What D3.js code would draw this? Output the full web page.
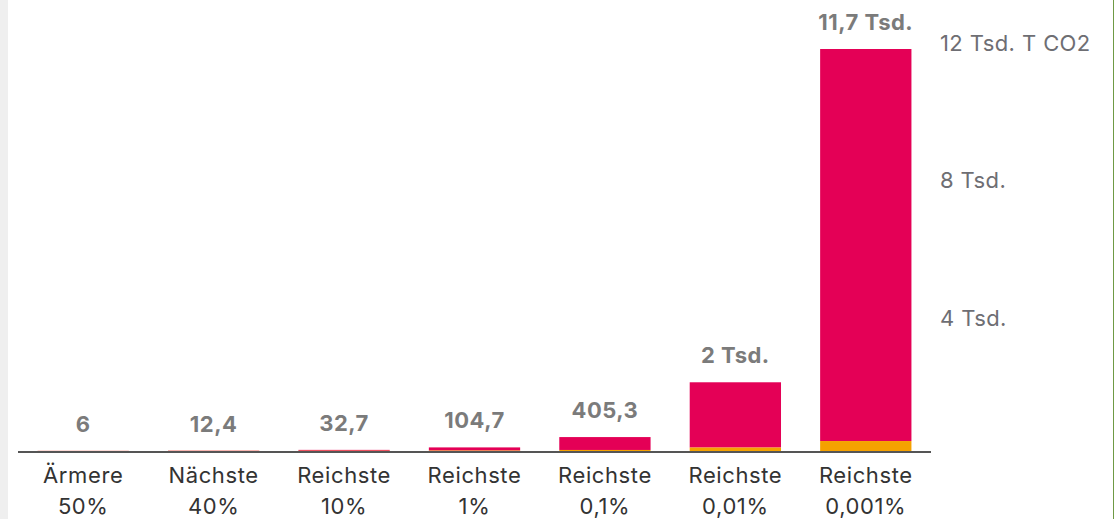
<!DOCTYPE html>
<html>
<head>
<meta charset="utf-8">
<script src="https://cdn.jsdelivr.net/npm/d3@7"></script>
<style>
  body { margin: 0; background: #fff; }
  svg { display: block; }
</style>
</head>
<body>
<div id="chart"></div>
<script>
// data
var groups = ["Ärmere 50%", "Nächste 40%", "Reichste 10%", "Reichste 1%", "Reichste 0,1%", "Reichste 0,01%", "Reichste 0,001%"];
var totals = [6, 12.4, 32.7, 104.7, 405.3, 2000, 11700];
var lowerPart = [2.5, 4.4, 6.8, 12, 30, 100, 290];
var valueLabels = ["6", "12,4", "32,7", "104,7", "405,3", "2 Tsd.", "11,7 Tsd."];
var tickValues = [4000, 8000, 12000];
var tickLabels = ["4 Tsd.", "8 Tsd.", "12 Tsd. T CO2"];

var width = 1114, height = 519;

var svg = d3.select("#chart").append("svg")
    .attr("width", width)
    .attr("height", height);

// side strips
svg.append("rect").attr("x", 0).attr("y", 0).attr("width", 8).attr("height", height).style("fill", "#efefef");
svg.append("rect").attr("x", 1113).attr("y", 0).attr("width", 1).attr("height", height).style("fill", "#6f9a45");

var x = d3.scaleBand()
    .domain(groups)
    .range([18, 931])
    .paddingInner(0.3)
    .paddingOuter(0.15);

var y = d3.scaleLinear()
    .domain([0, 11700])
    .range([451, 49]);

var font = "Inter, 'Open Sans', sans-serif";

// y axis labels (right)
svg.append("g").selectAll("text")
    .data(tickValues)
    .enter().append("text")
    .attr("x", 940)
    .attr("y", function(d) { return y(d) + 12; })
    .text(function(d, i) { return tickLabels[i]; })
    .style("font-family", font)
    .style("font-size", "22px")
    .style("letter-spacing", "0.4px")
    .style("fill", "#6e6e73");

var rows = groups.map(function(g, i) { return { g: g, total: totals[i], low: lowerPart[i] }; });

var bars = svg.append("g");
bars.selectAll("rect.top")
    .data(rows)
    .enter().append("rect")
    .attr("class", "top")
    .attr("x", function(d) { return x(d.g); })
    .attr("width", x.bandwidth())
    .attr("y", function(d) { return y(d.total); })
    .attr("height", function(d) { return y(d.low) - y(d.total); })
    .style("fill", "#e40056");

bars.selectAll("rect.low")
    .data(rows)
    .enter().append("rect")
    .attr("class", "low")
    .attr("x", function(d) { return x(d.g); })
    .attr("width", x.bandwidth())
    .attr("y", function(d) { return y(d.low); })
    .attr("height", function(d) { return y(0) - y(d.low); })
    .style("fill", "#f5a100");

// baseline
svg.append("line")
    .attr("x1", 18).attr("x2", 931)
    .attr("y1", 452).attr("y2", 452)
    .style("stroke", "#555")
    .style("stroke-width", 2);

// value labels
svg.append("g").selectAll("text")
    .data(rows)
    .enter().append("text")
    .attr("x", function(d) { return x(d.g) + x.bandwidth() / 2; })
    .attr("y", function(d) { return y(d.total) - 19; })
    .attr("text-anchor", "middle")
    .text(function(d, i) { return valueLabels[i]; })
    .style("font-family", font)
    .style("font-size", "22px")
    .style("letter-spacing", "0.5px")
    .style("font-weight", "bold")
    .style("fill", "#7b7b7b");

// category labels
var cats = svg.append("g").selectAll("text")
    .data(groups)
    .enter().append("text")
    .attr("x", function(d) { return x(d) + x.bandwidth() / 2; })
    .attr("y", 483)
    .attr("text-anchor", "middle")
    .style("font-family", font)
    .style("font-size", "22px")
    .style("letter-spacing", "0.6px")
    .style("fill", "#333");

cats.append("tspan")
    .attr("x", function(d) { return x(d) + x.bandwidth() / 2; })
    .text(function(d) { return d.split(" ")[0]; });
cats.append("tspan")
    .attr("x", function(d) { return x(d) + x.bandwidth() / 2; })
    .attr("dy", 31)
    .text(function(d) { return d.split(" ")[1]; });
</script>
</body>
</html>
